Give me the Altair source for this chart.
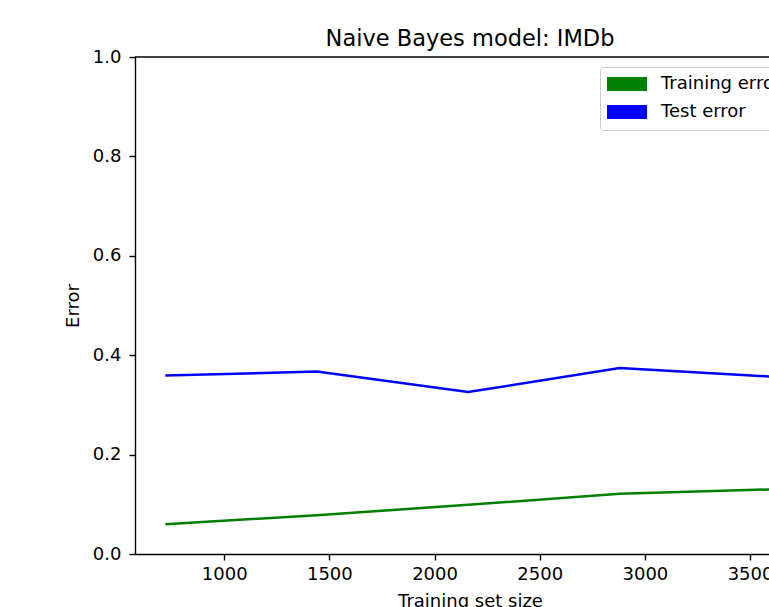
import altair as alt
import pandas as pd

# ---- data ----
train_sizes = [720, 1440, 2160, 2880, 3600]
training_error = [0.060, 0.078, 0.099, 0.121, 0.130]
test_error = [0.359, 0.367, 0.326, 0.374, 0.357]
series_names = ["Training error", "Test error"]
series_colors = ["green", "blue"]
x_ticks = [1000, 1500, 2000, 2500, 3000, 3500]
y_ticks = [0.0, 0.2, 0.4, 0.6, 0.8, 1.0]
chart_title = "Naive Bayes model: IMDb"

rows = []
for s, tr, te in zip(train_sizes, training_error, test_error):
    rows.append({"size": s, "error": tr, "series": series_names[0]})
    rows.append({"size": s, "error": te, "series": series_names[1]})
df = pd.DataFrame(rows)

W, H = 634, 497
FONT = "DejaVu Sans"
# legend patch: overlapping horizontal strokes forming a solid 40x14 block
PATCH = "".join(f"M-20,{y}H20" for y in ["-6", "-4.5", "-3", "-1.5", "0", "1.5", "3", "4.5", "6"])

x_scale = alt.Scale(domain=[576, 3590], nice=False, zero=False)
y_scale = alt.Scale(domain=[0, 1], nice=False)

lines = alt.Chart(df).mark_line(strokeWidth=2.5, clip=True).encode(
    x=alt.X("size:Q", scale=x_scale,
            axis=alt.Axis(values=x_ticks, format="d", title="Training set size",
                          labelPadding=5,
                          titleX=335, titleY=52, titleBaseline="alphabetic",
                          titleAlign="center")),
    y=alt.Y("error:Q", scale=y_scale,
            axis=alt.Axis(values=y_ticks, format=".1f", title="Error",
                          labelPadding=8,
                          titleX=-56.5, titleY=H / 2, titleBaseline="alphabetic",
                          titleAlign="center", titleAngle=-90)),
    color=alt.Color("series:N",
                    scale=alt.Scale(domain=series_names, range=series_colors),
                    legend=alt.Legend(
                        title=None, orient="none", legendX=465, legendY=10,
                        symbolType=PATCH, symbolSize=4, symbolStrokeWidth=2,
                        symbolOffset=10, labelOffset=25,
                        labelFont=FONT, labelFontSize=18,
                        labelColor="black", rowPadding=8, padding=8,
                        fillColor="white", strokeColor="#cccccc", cornerRadius=3,
                    )),
    order="size:Q",
)

top_border = alt.Chart(pd.DataFrame({"v": [1.0]})).mark_rule(
    color="black", strokeWidth=1.4
).encode(
    y=alt.Y("v:Q", scale=y_scale),
    x=alt.value(0),
    x2=alt.value(W),
)

title_mark = alt.Chart(pd.DataFrame({"t": [chart_title]})).mark_text(
    font=FONT, fontSize=22.5, color="black", align="center", baseline="alphabetic"
).encode(
    text="t:N",
    x=alt.value(335),
    y=alt.value(-11),
)

chart = alt.layer(lines, top_border, title_mark).properties(
    width=W, height=H,
    autosize=alt.AutoSizeParams(type="none"),
    padding={"left": 135, "top": 57, "right": 0, "bottom": 53},
).configure(background="white").configure_view(stroke=None).configure_axis(
    grid=False, domainColor="black", domainWidth=1.4, tickColor="black",
    tickWidth=1.4, tickSize=6, labelFont=FONT, labelFontSize=18,
    labelColor="black", titleFont=FONT, titleFontSize=18,
    titleFontWeight="normal", titleColor="black",
)

chart.save("out.html", embed_options={"renderer": "svg", "actions": False})
